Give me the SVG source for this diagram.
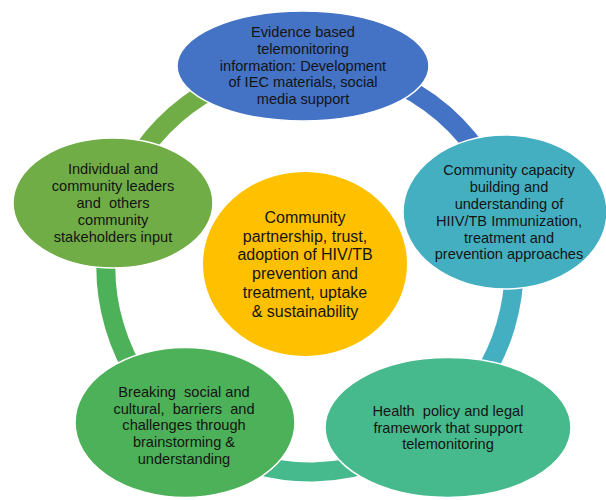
<svg xmlns="http://www.w3.org/2000/svg" width="606" height="500" viewBox="0 0 606 500">
<style>
.ring{fill:none;stroke-width:19}
.node{stroke:#fff;stroke-width:1.5}
.t{font-family:"Liberation Sans",Arial,sans-serif;font-size:14.6px;fill:#141414;text-anchor:middle;white-space:pre}
.c{font-size:16px}
</style>
<rect width="606" height="500" fill="#fff"/>
<g id="connectors">
<path class="ring" stroke="#4472C4" d="M302.9,64.1 A204,204 0 0 1 506.1,211.8"/>
<path class="ring" stroke="#45AFC2" d="M506.1,211.8 A204,204 0 0 1 443.8,422"/>
<path class="ring" stroke="#46BA8C" d="M443.8,422 A204,204 0 0 1 181.6,426.5"/>
<path class="ring" stroke="#4CB158" d="M181.6,426.5 A204,204 0 0 1 116,205"/>
<path class="ring" stroke="#70AD47" d="M116,205 A204,204 0 0 1 302.9,64.1"/>
</g>
<g id="center">
<ellipse cx="305" cy="264" rx="102" ry="92" fill="#FFC000"/>
<text class="t c" x="305"><tspan x="305" y="222.7">Community</tspan><tspan x="305" y="241.5">partnership, trust,</tspan><tspan x="305" y="260.3">adoption of HIV/TB</tspan><tspan x="305" y="279.1">prevention and</tspan><tspan x="305" y="297.9">treatment, uptake</tspan><tspan x="305" y="316.7">&amp; sustainability</tspan></text>
</g>
<g id="top">
<ellipse class="node" cx="303" cy="66" rx="126" ry="55" fill="#4472C4"/>
<text class="t"><tspan x="303" y="37.3">Evidence based</tspan><tspan x="303" y="54">telemonitoring</tspan><tspan x="303" y="70.7">information: Development</tspan><tspan x="303" y="87.3">of IEC materials, social</tspan><tspan x="303" y="104">media support</tspan></text>
</g>
<g id="right">
<ellipse class="node" cx="505" cy="212" rx="102" ry="77" fill="#45AFC2"/>
<text class="t"><tspan x="509" y="175">Community capacity</tspan><tspan x="509" y="191.9">building and</tspan><tspan x="509" y="208.8">understanding of</tspan><tspan x="509" y="225.7">HIIV/TB Immunization,</tspan><tspan x="509" y="242.6">treatment and</tspan><tspan x="509" y="259.4">prevention approaches</tspan></text>
</g>
<g id="bottom-right">
<ellipse class="node" cx="448" cy="427.5" rx="123" ry="70" fill="#46BA8C"/>
<text class="t"><tspan x="448" y="416">Health  policy and legal</tspan><tspan x="448" y="432.7">framework that support</tspan><tspan x="448" y="449.3">telemonitoring</tspan></text>
</g>
<g id="bottom-left">
<ellipse class="node" cx="185" cy="422.5" rx="110" ry="75" fill="#4CB158"/>
<text class="t"><tspan x="184" y="396.7">Breaking  social and</tspan><tspan x="184" y="413.5">cultural,  barriers  and</tspan><tspan x="184" y="430.3">challenges through</tspan><tspan x="184" y="447.1">brainstorming &amp;</tspan><tspan x="184" y="464">understanding</tspan></text>
</g>
<g id="left">
<ellipse class="node" cx="113" cy="203" rx="100" ry="65" fill="#70AD47"/>
<text class="t"><tspan x="113" y="174">Individual and</tspan><tspan x="113" y="191">community leaders</tspan><tspan x="113" y="208">and  others</tspan><tspan x="113" y="225">community</tspan><tspan x="113" y="242">stakeholders input</tspan></text>
</g>
</svg>
